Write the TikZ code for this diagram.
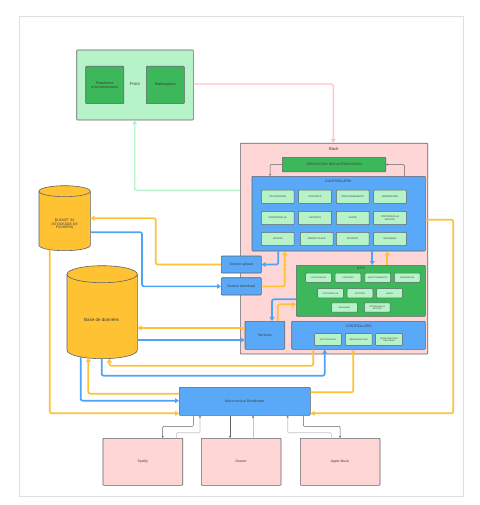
\documentclass[tikz,border=0pt]{standalone}
\usepackage{fontspec}
\setmainfont{Liberation Sans}
\usetikzlibrary{arrows.meta}
\definecolor{orangeC}{HTML}{FFC233}
\definecolor{blueL}{HTML}{4DA3F5}
\definecolor{blueB}{HTML}{5AA9F8}
\definecolor{greenD}{HTML}{3CB85A}
\definecolor{greenL}{HTML}{B7F3C8}
\definecolor{pinkB}{HTML}{FFD6D6}
\definecolor{pinkL}{HTML}{FFC6C6}
\definecolor{edgeC}{HTML}{5F6368}
\definecolor{textC}{HTML}{3A3A3A}
\newcommand{\fsz}[1]{\fontsize{#1}{#1}\selectfont}
\tikzset{
  every node/.style={text=textC},
  box/.style={draw=edgeC, line width=0.6pt, rounded corners=0.8pt, inner sep=0pt, align=center},
  bluebox/.style={box, fill=blueB},
  greenbox/.style={box, fill=greenD},
  item/.style={box, fill=greenL, line width=0.5pt, font=\fsz{2.4}},
  ditem/.style={item, font=\fsz{2.1}},
  hidden/.style={inner sep=0pt},
  org/.style={draw=orangeC, line width=1.7pt, rounded corners=2pt, -{Triangle[length=4pt,width=4.8pt]}},
  blu/.style={draw=blueL, line width=1.7pt, rounded corners=2pt, -{Triangle[length=4pt,width=4.8pt]}},
  thin/.style={draw=edgeC, line width=0.5pt, rounded corners=1pt, -{Stealth[length=2.2pt,width=2pt]}},
  lite/.style={draw=gray!45, line width=0.6pt, rounded corners=1pt, -{Stealth[length=2.2pt,width=2pt,color=edgeC]}},
}
\begin{document}
\begin{tikzpicture}[x=1pt,y=-1pt]
\useasboundingbox (0,0) rectangle (479,505);
\fill[white] (0,0) rectangle (479,505);
\draw[gray!25, line width=0.7pt] (19,16) rectangle (463,496);

% Front
\node[box, fill=greenL, minimum width=116.6pt, minimum height=70pt] (front) at (135,85) {};
\node[font=\fsz{4.2}] (frontlbl) at (135,84) {Front};
\node[greenbox, minimum width=38pt, minimum height=37.4pt, font=\fsz{3.6}] (plat) at (104.7,85) {Plateforme\\d'investissement};
\node[greenbox, minimum width=38pt, minimum height=37.4pt, font=\fsz{3.8}] (mkt) at (165.3,85) {Marketplace};

% Back
\node[box, fill=pinkB, minimum width=187.4pt, minimum height=210.7pt] (back) at (334,248.65) {};
\node[font=\fsz{4.2}] (backlbl) at (333.7,148.7) {Back};
\node[greenbox, minimum width=103.4pt, minimum height=14.4pt, font=\fsz{3.2}] (verif) at (334,164.5) {VÉRIFICATION DES AUTORISATIONS};

% Upper controllers
\node[bluebox, minimum width=173.3pt, minimum height=74.7pt] (ctrl1) at (338.65,213.65) {};
\node[font=\fsz{3.5}] (ctrl1lbl) at (338.3,181) {CONTROLLERS};
\foreach \nm/\x/\y/\t in {
  ca/277.7/196.7/UTILISATEURS, cb/315/196.7/CONTRATS, cc/352.7/196.7/INVESTISSEMENTS, cd/390/196.7/MODERATION,
  ce/277.7/218/PORTEFEUILLE, cf/315/218/ARTISTES, cg/352.7/218/VENTE, ch/390/218/{PORTEFEUILLE\\ARTISTE},
  ci/277.7/239/UPLOAD, cj/316.7/239/MARKETPLACE, ck/352.7/239/SUPPORT, cl/390/239/MUSIQUES}
  \node[item, minimum width=32.7pt, minimum height=13.3pt] (\nm) at (\x,\y) {\t};

% Upload / download services
\node[bluebox, minimum width=40pt, minimum height=17pt, font=\fsz{3.5}] (sup) at (241.3,264.5) {Service upload};
\node[bluebox, minimum width=40pt, minimum height=17.3pt, font=\fsz{3.5}] (sdl) at (241.3,286.35) {Service download};

% Data
\node[greenbox, minimum width=129pt, minimum height=51pt] (data) at (360.8,290.8) {};
\node[font=\fsz{3.2}] (datalbl) at (361,268.6) {DATA};
\foreach \nm/\x/\y/\t in {
  da/318.5/277.7/UTILISATEURS, db/348/277.7/CONTRATS, dc/377.7/277.7/INVESTISSEMENTS, dd/407.2/277.7/MODERATION,
  de/330.5/293.3/PORTEFEUILLE, df/360/293.3/ARTISTES, dg/389.5/293.3/VENTE,
  dh/344.5/307.5/MUSIQUES, di/377.2/307.5/{PORTEFEUILLE\\ARTISTE}}
  \node[ditem, minimum width=25.7pt, minimum height=9.2pt] (\nm) at (\x,\y) {\t};

% Services and lower controllers
\node[bluebox, minimum width=39.7pt, minimum height=28pt, font=\fsz{3.5}] (svc) at (264.85,335.3) {Services};
\node[bluebox, minimum width=133.6pt, minimum height=28pt] (ctrl2) at (358.5,335.3) {};
\node[font=\fsz{3.5}] (ctrl2lbl) at (358.7,326) {CONTROLLERS};
\foreach \nm/\x/\t in {na/328/NOTIFICATIONS, nb/358.7/RÉMUNÉRATIONS, nc/389/{REDISTRIBUTION\\DES GAINS}}
  \node[ditem, minimum width=26.7pt, minimum height=11.7pt] (\nm) at (\x,339.5) {\t};

% Storage cylinders
\node[hidden, minimum width=51.3pt, minimum height=65pt] (s3) at (64.65,218.2) {};
\path[draw=edgeC, fill=orangeC, line width=0.6pt]
  (39,191.2) -- (39,245.2) arc[start angle=180, end angle=0, x radius=25.65, y radius=5.5]
  -- (90.3,191.2) arc[start angle=0, end angle=-180, x radius=25.65, y radius=5.5] -- cycle;
\draw[edgeC, line width=0.6pt] (39,191.2) arc[start angle=180, end angle=0, x radius=25.65, y radius=5.5];
\node[font=\fsz{3.5}, align=center] (s3lbl) at (64.65,224.5) {BUCKET S3\\(STOCKAGE DE\\FICHIERS)};

\node[hidden, minimum width=70.3pt, minimum height=93pt] (bdd) at (102.15,312.2) {};
\path[draw=edgeC, fill=orangeC, line width=0.6pt]
  (67,274.2) -- (67,350.2) arc[start angle=180, end angle=0, x radius=35.15, y radius=8.5]
  -- (137.3,274.2) arc[start angle=0, end angle=-180, x radius=35.15, y radius=8.5] -- cycle;
\draw[edgeC, line width=0.6pt] (67,274.2) arc[start angle=180, end angle=0, x radius=35.15, y radius=8.5];
\node[font=\fsz{4.5}] (bddlbl) at (101.7,320.3) {Base de données};

% Distribution and streaming platforms
\node[bluebox, minimum width=131pt, minimum height=28pt, font=\fsz{3.5}] (micro) at (244.8,401.3) {Micro-service Distribution};
\node[box, fill=pinkB, minimum width=79.7pt, minimum height=47pt, font=\fsz{3.4}] (spot) at (142.85,461.8) {Spotify};
\node[box, fill=pinkB, minimum width=79.7pt, minimum height=47pt, font=\fsz{3.4}] (deez) at (241.15,461.8) {Deezer};
\node[box, fill=pinkB, minimum width=79.7pt, minimum height=47pt, font=\fsz{3.4}] (apple) at (340.15,461.8) {Apple Music};

% Front <-> Back
\draw[draw=pinkL, line width=1.4pt, rounded corners=2pt, -{Triangle[length=4pt,width=4.8pt]}] (front.east |- 0,84) -| (333.3,0 |- back.north);
\draw[draw=greenL, line width=1.4pt, rounded corners=2pt, -{Triangle[length=4pt,width=4.8pt]}] (back.west |- 0,190.3) -| (134.7,0 |- front.south);

% Authorisation loop
\draw[thin] (verif.west) -| (270,0 |- ctrl1.north);
\draw[thin] (404.3,0 |- ctrl1.north) |- (verif.east);

% File storage
\draw[org] (sup.west) -| (155.7,240) |- (s3.east);
\draw[blu] ([yshift=-14pt]s3.east) -| (142,260) |- (sdl.west);
\draw[blu] (278.3,0 |- ctrl1.south) |- (sup.east);
\draw[org] (sdl.east) -| (284.7,0 |- ctrl1.south);

% Controllers <-> data <-> services
\draw[blu] (372.3,0 |- ctrl1.south) -- (372.3,0 |- data.north);
\draw[org] (387.3,0 |- data.north) -- (387.3,0 |- ctrl1.south);
\draw[blu] (data.west |- 0,299.3) -| (272,0 |- svc.north);
\draw[org] (277.7,0 |- svc.north) |- (data.west |- 0,304.3);

% Database links
\draw[org] (svc.west |- 0,328) -- (bdd.east |- 0,328);
\draw[blu] (bdd.east |- 0,340) -- (svc.west |- 0,340);
\draw[org] (313.3,0 |- ctrl2.south) |- (109.3,365.7) -- (109.3,358.5);
\draw[blu] (101.7,358.7) |- (324.7,375.7) -- (324.7,0 |- ctrl2.south);
\draw[org] (micro.west |- 0,393.7) -| (88.3,357.8);
\draw[blu] (80.7,356.8) |- (micro.west |- 0,400.7);
\draw[org] (49.7,249.7) |- (micro.west |- 0,413.3);
\draw[org] (micro.east |- 0,392.3) -| (353.3,0 |- ctrl2.south);
\draw[org] (ctrl1.east |- 0,219.7) -| (453.3,300) |- (micro.east |- 0,413.3);

% Streaming platforms
\draw[thin] (193.3,0 |- micro.south) -- (193.3,426.3) -| (162.7,0 |- spot.north);
\draw[lite] (176.3,0 |- spot.north) -- (176.3,432.7) -| (200,0 |- micro.south);
\draw[thin] (230,0 |- micro.south) -- (230,0 |- deez.north);
\draw[lite] (253,0 |- deez.north) -- (253,0 |- micro.south);
\draw[thin] (303.3,0 |- micro.south) -- (303.3,426.3) -| (340,0 |- apple.north);
\draw[lite] (331.3,0 |- apple.north) -- (331.3,432.7) -| (287.7,0 |- micro.south);
\end{tikzpicture}
\end{document}
